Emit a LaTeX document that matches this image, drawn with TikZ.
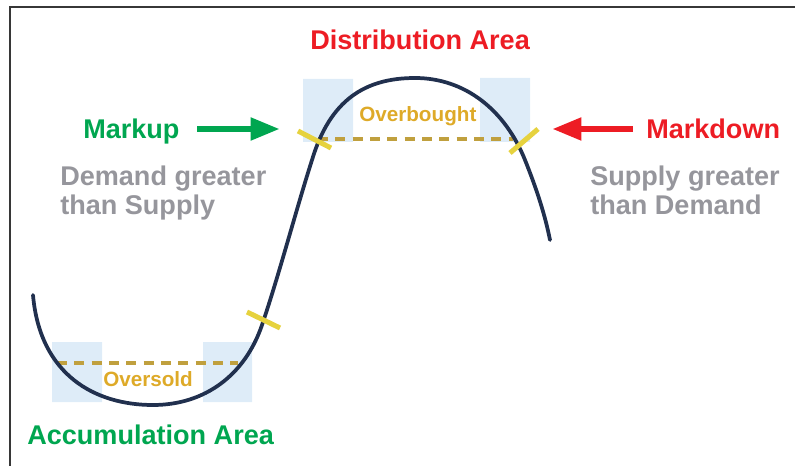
\documentclass[tikz,border=0pt]{standalone}
\usepackage{fontspec}
\setmainfont{Liberation Sans}
\usepackage{xcolor}
\usetikzlibrary{arrows.meta}

\definecolor{pricenavy}{RGB}{33,48,78}
\definecolor{levelgold}{RGB}{192,160,62}
\definecolor{tickyellow}{RGB}{230,210,62}
\definecolor{zonebg}{RGB}{222,236,248}
\definecolor{accgreen}{RGB}{0,166,80}
\definecolor{distred}{RGB}{237,28,36}
\definecolor{mutedgray}{RGB}{150,150,156}
\definecolor{bandgold}{RGB}{222,170,40}
\definecolor{framegray}{RGB}{55,55,55}

\begin{document}
\begin{tikzpicture}[x=0.75pt, y=-0.75pt,
                every node/.append style = {anchor = base west, inner sep = 0pt,
                    font = \bfseries\fontsize{20.3}{21.75}\selectfont},
                zone/.style = {fill = zonebg},
                pricelevel/.style = {draw = levelgold, line width = 3pt, dash pattern = on 7.5pt off 5.5pt},
                cross/.style = {draw = tickyellow, line width = 3.75pt},
                price/.style = {draw = pricenavy, line width = 2.8pt, line cap = round},
                markarrow/.style = {line width = 5pt, -{Triangle[length = 22pt, width = 16pt]}},
                bandtext/.style = {text = bandgold, font = \bfseries\fontsize{15.5}{17}\selectfont}]
                \useasboundingbox (0,0) rectangle (795,466);
                \draw[framegray, line width = 1.5pt] (9.5,466) |- (795,7.5);
                % shaded zones at both ends of each range
                \path[zone] (52,342) rectangle (102,402) (203,342) rectangle (252,402);
                \path[zone] (303,79) rectangle (353,142) (480,78) rectangle (530,142);
                \draw[pricelevel] (57,363) -- (238,363);
                \draw[pricelevel] (318,139) -- (513,139);
                \draw[price] (33,295) .. controls (40,375) and (95,405) .. (153,405)
                    .. controls (205,405) and (245,375) .. (262,325)
                    .. controls (279,275) and (296,210) .. (312,160)
                    .. controls (330,100) and (365,78) .. (415,78)
                    .. controls (465,78) and (505,110) .. (525,160)
                    .. controls (537,190) and (545,215) .. (550,240);
                \draw[cross] (298,131) -- (331,148);
                \draw[cross] (510,153) -- (538,129);
                \draw[cross] (247,312) -- (280,328);
                \node[text = distred] (dist) at (310,50) {Distribution Area};
                \node[text = accgreen] (markup) at (83,139) {Markup};
                \node[text = distred] (markdown) at (646,139) {Markdown};
                % base of a two-line node is its last line
                \node[text = mutedgray, align = left] (demand) at (60,215) {Demand greater\\than Supply};
                \node[text = mutedgray, align = left] (supply) at (590,215) {Supply greater\\than Demand};
                \node[text = accgreen] (acc) at (27,444) {Accumulation Area};
                \node[bandtext] (overbought) at (359,122) {Overbought};
                \node[bandtext] (oversold) at (103,386) {Oversold};
                \coordinate (uptip) at (280,129);
                \coordinate (downtip) at (552,129);
                \draw[markarrow, accgreen, shorten <= 13pt] (markup.east |- uptip) -- (uptip);
                \draw[markarrow, distred, shorten <= 10pt] (markdown.west |- downtip) -- (downtip);
            \end{tikzpicture}
\end{document}
